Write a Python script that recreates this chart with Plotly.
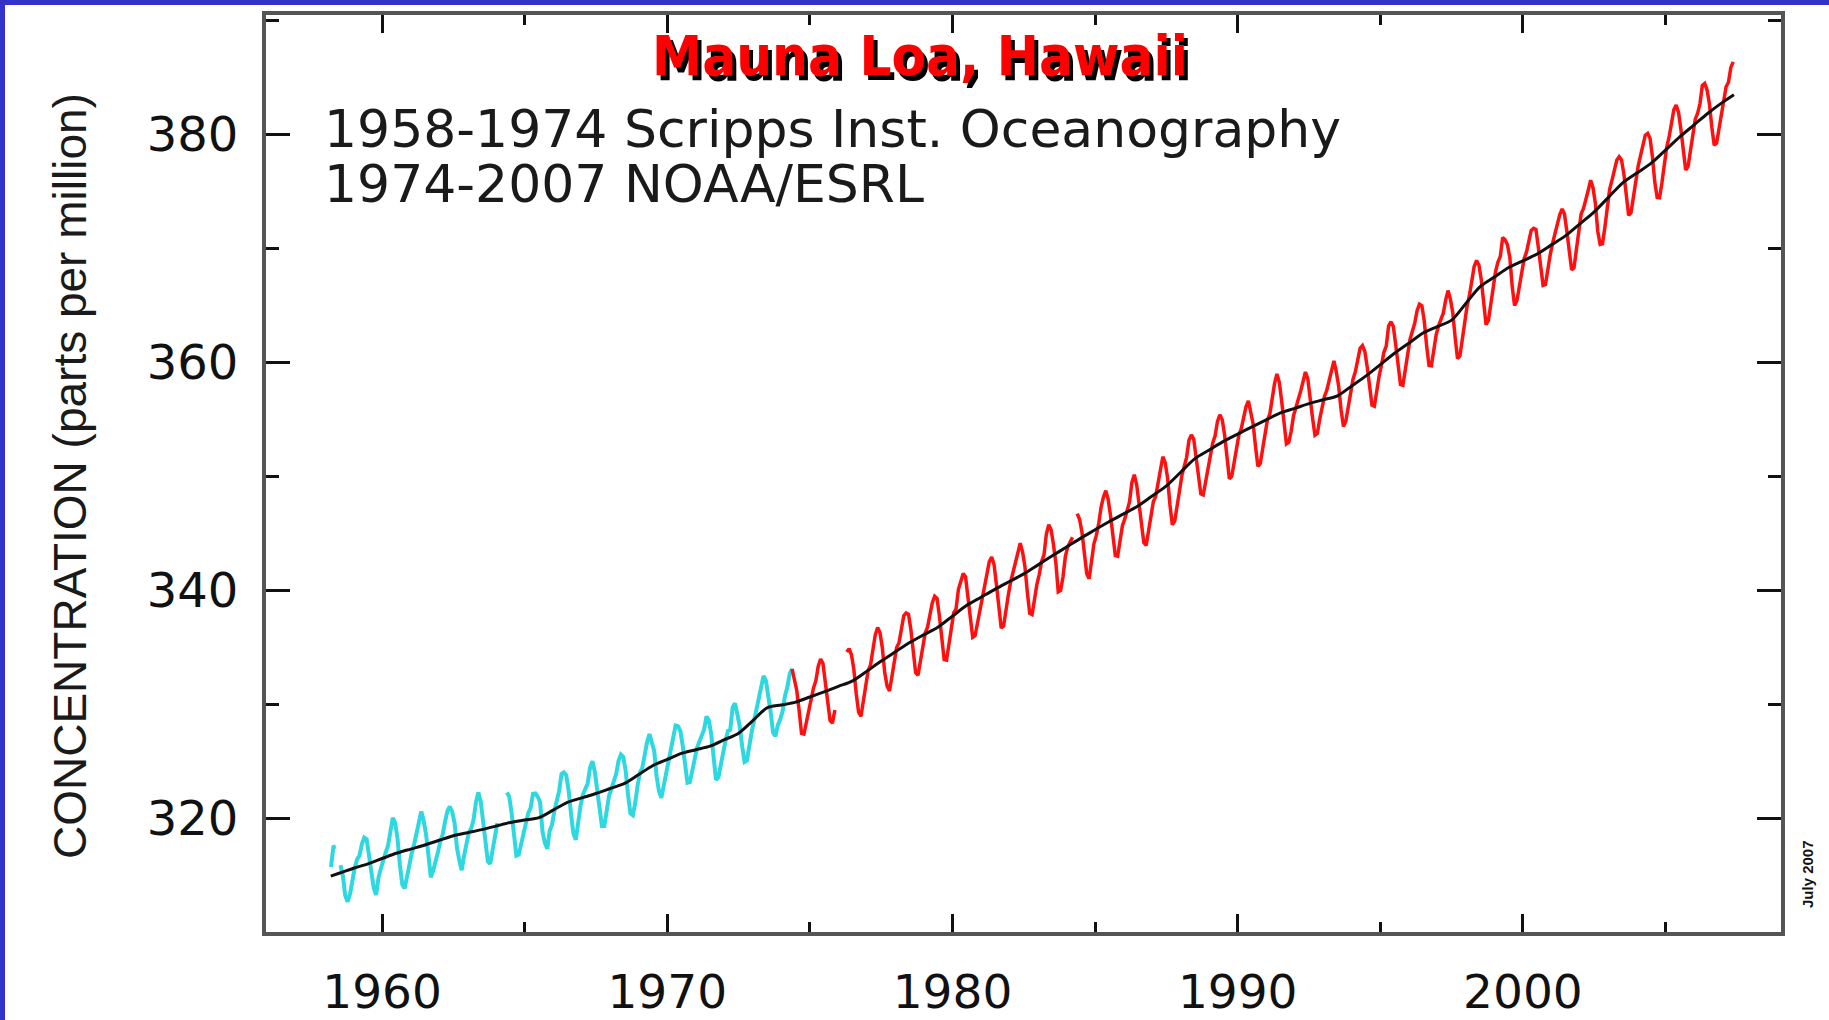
import plotly.graph_objects as go

# ---------------- data (ppm) ----------------
# Scripps monthly means, starting March 1958 (None = missing month)
scripps_start = (1958, 3)
scripps_ppm = [
    315.71, 317.45, 317.50, None, 315.86, 314.93, 313.20, 312.66, 313.33, 314.67,
    315.62, 316.38, 316.71, 317.72, 318.29, 318.15, 316.54, 314.80, 313.84, 313.26, 314.80, 315.58,
    316.43, 316.97, 317.58, 319.02, 320.03, 319.59, 318.18, 315.91, 314.16, 313.83, 315.00, 316.19,
    316.93, 317.70, 318.54, 319.48, 320.58, 319.77, 318.57, 316.79, 314.80, 315.38, 316.10, 317.01,
    317.94, 318.56, 319.68, 320.63, 321.01, 320.55, 319.58, 317.40, 316.26, 315.42, 316.69, 317.69,
    318.74, 319.08, 319.86, 321.39, 322.25, 321.47, 319.74, 317.77, 316.21, 315.99, 317.12, 318.31,
    319.57, None, None, None, 322.25, 321.89, 320.44, 318.70, 316.70, 316.79, 317.79, 318.71,
    319.44, 320.44, 320.89, 322.13, 322.16, 321.87, 321.39, 318.81, 317.81, 317.30, 318.87, 319.42,
    320.62, 321.59, 322.39, 323.87, 324.01, 323.75, 322.39, 320.37, 318.64, 318.10, 319.79, 321.08,
    322.07, 322.50, 323.04, 324.42, 325.00, 324.09, 322.55, 320.92, 319.31, 319.31, 320.72, 321.96,
    322.57, 323.15, 323.89, 325.02, 325.57, 325.36, 324.14, 322.03, 320.41, 320.25, 321.31, 322.84,
    324.00, 324.42, 325.64, 326.66, 327.38, 326.70, 325.89, 323.67, 322.38, 321.78, 322.85, 324.11,
    325.03, 325.99, 326.87, 328.13, 328.07, 327.66, 326.35, 324.69, 323.10, 323.16, 323.98, 325.13,
    326.17, 326.68, 327.18, 327.78, 328.92, 328.57, 327.34, 325.46, 323.36, 323.57, 324.80, 326.01,
    326.77, 327.63, 327.75, 329.72, 330.07, 329.09, 328.05, 326.32, 324.93, 325.06, 326.50, 327.55,
    328.54, 329.56, 330.30, 331.50, 332.48, 332.07, 330.87, 329.31, 327.51, 327.18, 328.16, 328.64,
    329.35, 330.71, 331.48, 332.65, 333.09,
]

# NOAA/ESRL monthly means, starting May 1974 (None = missing month)
noaa_start = (1974, 5)
noaa_ppm = [
    333.09, 332.25, 331.18, 329.40, 327.43, 327.37, 328.46, 329.57,
    330.40, 331.40, 332.04, 333.31, 333.96, 333.59, 331.91, 330.06, 328.56, 328.34, 329.49, None,
    None, None, None, 334.58, 334.87, 334.34, 333.05, 330.94, 329.30, 328.94, 330.31, 331.68,
    332.93, 333.42, 334.70, 336.07, 336.74, 336.27, 334.93, 332.75, 331.58, 331.16, 332.40, 333.85,
    334.97, 335.39, 336.64, 337.76, 338.01, 337.89, 336.54, 334.68, 332.76, 332.54, 333.92, 334.95,
    336.23, 336.76, 337.96, 338.89, 339.47, 339.29, 337.73, 336.09, 333.91, 333.86, 335.29, 336.73,
    338.01, 338.36, 340.08, 340.77, 341.46, 341.17, 339.56, 337.60, 335.88, 336.01, 337.10, 338.21,
    339.24, 340.48, 341.38, 342.51, 342.91, 342.25, 340.49, 338.43, 336.69, 336.85, 338.36, 339.61,
    340.75, 341.61, 342.70, 343.56, 344.13, 343.35, 342.06, 339.82, 337.97, 337.86, 339.26, 340.49,
    341.38, 342.52, 343.10, 344.94, 345.75, 345.32, 343.99, 342.39, 339.86, 339.99, 341.16, 342.99,
    343.81, 344.19, 344.65, None, 346.73, 346.21, 345.06, 343.40, 341.45, 341.00, 342.57, 344.08,
    344.79, 345.82, 347.25, 348.17, 348.74, 347.97, 346.56, 344.72, 343.06, 342.99, 344.22, 345.67,
    346.26, 346.93, 347.77, 349.48, 350.14, 349.26, 347.76, 345.71, 344.20, 343.94, 345.24, 346.75,
    347.77, 348.24, 349.51, 350.36, 351.72, 351.20, 349.85, 347.49, 345.75, 346.08, 347.23, 348.69,
    350.06, 350.76, 351.67, 353.16, 353.63, 353.28, 351.80, 349.85, 348.46, 348.36, 349.53, 351.03,
    352.16, 352.94, 353.56, 354.83, 355.41, 354.97, 353.63, 351.67, 349.79, 349.99, 351.30, 352.53,
    353.64, 354.18, 355.04, 356.10, 356.63, 355.72, 354.61, 352.63, 350.88, 351.13, 352.43, 353.95,
    354.95, 355.45, 356.83, 358.14, 358.99, 358.28, 356.61, 354.38, 352.85, 353.00, 353.95, 355.32,
    356.21, 356.76, 357.47, 358.51, 359.16, 358.57, 357.10, 355.12, 353.61, 353.76, 355.00, 356.19,
    357.01, 357.56, 358.36, 359.45, 360.13, 359.17, 357.88, 355.85, 354.38, 354.83, 356.16, 357.43,
    358.50, 359.18, 360.11, 361.24, 361.48, 360.96, 359.59, 357.63, 356.26, 356.16, 357.56, 358.79,
    359.76, 360.87, 361.43, 363.19, 363.58, 363.15, 361.53, 359.54, 358.06, 357.99, 359.45, 360.68,
    362.02, 362.74, 363.45, 364.56, 365.11, 364.97, 363.63, 361.46, 359.74, 359.71, 361.02, 362.41,
    363.20, 363.81, 364.32, 365.47, 366.31, 365.55, 364.36, 362.19, 360.34, 360.56, 362.06, 363.87,
    364.92, 365.88, 367.01, 368.42, 368.95, 368.55, 367.25, 365.10, 363.31, 363.69, 365.14, 366.57,
    367.97, 368.81, 369.31, 370.96, 370.77, 370.32, 369.23, 366.68, 364.99, 365.43, 366.67, 368.01,
    369.09, 369.68, 370.52, 371.59, 371.78, 371.67, 370.10, 368.12, 366.77, 366.84, 368.27, 369.46,
    370.48, 371.37, 372.19, 372.96, 373.47, 373.04, 371.52, 369.59, 368.13, 368.31, 369.73, 371.10,
    373.03, 373.51, 374.18, 375.11, 376.00, 375.34, 373.95, 371.52, 370.37, 370.42, 371.87, 373.35,
    375.20, 376.00, 376.75, 377.75, 378.06, 377.77, 376.53, 374.61, 372.92, 373.15, 374.56, 375.90,
    377.23, 378.16, 378.98, 379.95, 380.11, 379.68, 378.07, 375.83, 374.48, 374.45, 375.77, 377.19,
    378.88, 379.77, 380.83, 382.17, 382.59, 381.94, 380.43, 378.54, 376.89, 377.20, 378.44, 379.97,
    381.33, 381.87, 382.70, 384.31, 384.49, 383.91, 382.68, 380.65, 379.06, 379.26, 380.51, 381.99,
    382.99, 384.20, 384.60, 385.90, 386.39,
]

# Seasonally corrected trend (black line)
trend_year = [
    1958.2, 1959.0, 1959.5, 1960.0, 1960.5, 1961.0, 1961.5, 1962.0, 1962.5, 1963.0, 1963.5,
    1964.0, 1964.5, 1965.0, 1965.5, 1966.0, 1966.5, 1967.0, 1967.5, 1968.0, 1968.5,
    1969.0, 1969.5, 1970.0, 1970.5, 1971.0, 1971.5, 1972.0, 1972.5, 1973.0, 1973.5,
    1974.0, 1974.5, 1975.0, 1975.5, 1976.0, 1976.5, 1977.0, 1977.5, 1978.0, 1978.5,
    1979.0, 1979.5, 1980.0, 1980.5, 1981.0, 1981.5, 1982.0, 1982.5, 1983.0, 1983.5,
    1984.0, 1984.5, 1985.0, 1985.5, 1986.0, 1986.5, 1987.0, 1987.5, 1988.0, 1988.5,
    1989.0, 1989.5, 1990.0, 1990.5, 1991.0, 1991.5, 1992.0, 1992.5, 1993.0, 1993.5,
    1994.0, 1994.5, 1995.0, 1995.5, 1996.0, 1996.5, 1997.0, 1997.5, 1998.0, 1998.5,
    1999.0, 1999.5, 2000.0, 2000.5, 2001.0, 2001.5, 2002.0, 2002.5, 2003.0, 2003.5,
    2004.0, 2004.5, 2005.0, 2005.5, 2006.0, 2006.5, 2007.0, 2007.4,
]
trend_ppm = [
    314.90, 315.60, 315.98, 316.45, 316.91, 317.28, 317.64, 318.05, 318.45, 318.72, 318.99,
    319.30, 319.62, 319.83, 320.04, 320.70, 321.38, 321.77, 322.16, 322.60, 323.04,
    323.83, 324.62, 325.15, 325.68, 326.00, 326.32, 326.88, 327.45, 328.56, 329.68,
    329.93, 330.18, 330.63, 331.08, 331.56, 332.05, 332.90, 333.78, 334.60, 335.41,
    336.10, 336.78, 337.73, 338.68, 339.39, 340.10, 340.77, 341.44, 342.23, 343.03,
    343.80, 344.58, 345.31, 346.04, 346.71, 347.39, 348.27, 349.16, 350.36, 351.56,
    352.31, 353.07, 353.71, 354.35, 354.96, 355.57, 355.97, 356.38, 356.72, 357.07,
    357.94, 358.82, 359.81, 360.80, 361.69, 362.59, 363.15, 363.71, 365.18, 366.65,
    367.49, 368.33, 368.92, 369.52, 370.32, 371.13, 372.17, 373.22, 374.49, 375.77,
    376.63, 377.49, 378.64, 379.80, 380.85, 381.90, 382.83, 383.50,
]

x_ticks = [1960, 1970, 1980, 1990, 2000]
y_ticks = [320, 340, 360, 380]
legend_lines = ["1958-1974 Scripps Inst. Oceanography", "1974-2007 NOAA/ESRL"]


def month_axis(start, n):
    y0, m0 = start
    return [y0 + (m0 - 1 + i + 0.5) / 12.0 for i in range(n)]


scripps_x = month_axis(scripps_start, len(scripps_ppm))
noaa_x = month_axis(noaa_start, len(noaa_ppm))

# ---------------- layout geometry (pixels) ----------------
W, H = 1829, 1020
ML, MR, MT, MB = 266, 48, 15, 88
PW, PH = W - ML - MR, H - MT - MB


def px(xp):
    return (xp - ML) / PW


def py(yp):
    return (H - MB - yp) / PH


fig = go.Figure()
fig.add_trace(go.Scatter(x=scripps_x, y=scripps_ppm, mode="lines",
                         line=dict(color="#2ED8E0", width=4), connectgaps=False,
                         hoverinfo="skip", showlegend=False))
fig.add_trace(go.Scatter(x=noaa_x, y=noaa_ppm, mode="lines",
                         line=dict(color="#FF1010", width=3.5), connectgaps=False,
                         hoverinfo="skip", showlegend=False))
fig.add_trace(go.Scatter(x=trend_year, y=trend_ppm, mode="lines",
                         line=dict(color="#111111", width=3, shape="spline", smoothing=0.8),
                         hoverinfo="skip", showlegend=False))

axis_common = dict(
    showgrid=False, zeroline=False, showline=True, linecolor="#555555", linewidth=4,
    mirror="allticks", ticks="inside", tickwidth=3, tickcolor="#111111", automargin=False,
)

fig.update_xaxes(
    range=[1955.93, 2009.05], tickvals=x_ticks, ticklen=18,
    minor=dict(dtick=5, tick0=1955, ticks="inside", ticklen=10, tickwidth=3, tickcolor="#111111"),
    tickfont=dict(family="DejaVu Sans", size=47, color="#111111"),
    ticklabelstandoff=16, **axis_common,
)
fig.update_yaxes(
    range=[310, 390.5], tickvals=y_ticks, ticklen=24,
    minor=dict(dtick=10, tick0=310, ticks="inside", ticklen=13, tickwidth=3, tickcolor="#111111"),
    tickfont=dict(family="DejaVu Sans", size=48, color="#111111"),
    ticklabelstandoff=14, **axis_common,
)

legend_text = "<br>".join('<span style="font-size:52px">%s</span>' % s for s in legend_lines)

annotations = [
    dict(text="Mauna Loa, Hawaii", x=px(920), y=py(56), xanchor="center", yanchor="middle",
         font=dict(family="DejaVu Sans Condensed, Liberation Sans Narrow, DejaVu Sans",
                   size=56, color="#FF0000", weight="bold", shadow="4px 5px 0px #000000")),
    dict(text=legend_text, x=px(322), y=py(156), xanchor="left", yanchor="middle", align="left",
         font=dict(family="DejaVu Sans", size=42, color="#1A1A1A")),
    dict(text="CONCENTRATION (parts per million)", x=px(70), y=py(476), textangle=-90,
         xanchor="center", yanchor="middle",
         font=dict(family="Liberation Sans, Arial", size=46, color="#1A1A1A")),
    dict(text="July 2007", x=px(1807), y=py(874), textangle=-90,
         xanchor="center", yanchor="middle",
         font=dict(family="Liberation Sans Narrow, Liberation Sans", size=15, color="#111111",
                   weight="bold")),
]
for a in annotations:
    a.update(xref="paper", yref="paper", showarrow=False)

BLUE = "#3333CC"
shapes = [
    dict(type="rect", xref="paper", yref="paper", x0=px(0), x1=px(5), y0=py(H), y1=py(0),
         fillcolor=BLUE, line=dict(width=0), layer="above"),
    dict(type="rect", xref="paper", yref="paper", x0=px(0), x1=px(W), y0=py(5), y1=py(0),
         fillcolor=BLUE, line=dict(width=0), layer="above"),
]

fig.update_layout(
    width=W, height=H, margin=dict(l=ML, r=MR, t=MT, b=MB, pad=0),
    paper_bgcolor="white", plot_bgcolor="white",
    annotations=annotations, shapes=shapes, showlegend=False,
)

fig.write_html("out.html", config={"displayModeBar": False})
